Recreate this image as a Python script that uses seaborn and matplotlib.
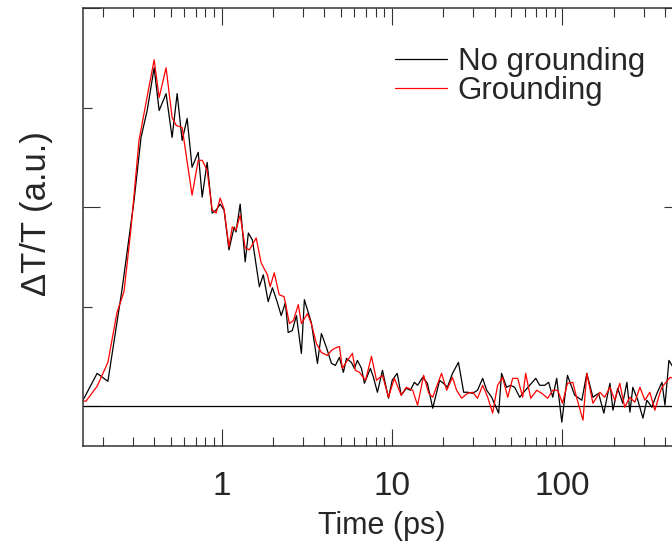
import numpy as np
import pandas as pd
import seaborn as sns
import matplotlib
matplotlib.use("Agg")
import matplotlib.pyplot as plt
from matplotlib.ticker import FixedLocator, LogLocator, NullFormatter

t_black = [0.135, 0.155, 0.185, 0.214, 0.259, 0.305, 0.335, 0.364, 0.400, 0.428,
           0.470, 0.510, 0.546, 0.584, 0.625, 0.668, 0.726, 0.766, 0.819, 0.877,
           0.925, 0.977, 1.03, 1.10, 1.18, 1.21, 1.28, 1.37, 1.43, 1.51,
           1.66, 1.75, 1.87, 1.98, 2.11, 2.23, 2.36, 2.45, 2.59, 2.74,
           2.93, 3.05, 3.35, 3.64, 3.84, 4.11, 4.40, 4.64, 4.90, 5.17,
           5.39, 5.76, 6.00, 6.25, 6.60, 6.87, 7.45, 7.76, 8.19, 8.77,
           9.51, 10.0, 10.7, 11.3, 12.1, 12.8, 13.5, 14.1, 15.1, 16.1,
           17.3, 19.0, 20.0, 21.1, 22.6, 24.5, 26.3, 27.7, 29.7, 31.7,
           34.0, 35.9, 38.4, 42.2, 43.9, 47.0, 49.6, 52.4, 56.1, 59.2,
           64.2, 69.7, 73.5, 78.7, 83.0, 87.7, 92.5, 99.1, 107, 118,
           130, 139, 151, 163, 175, 190, 198, 211, 226, 239,
           249, 259, 277, 297, 313, 335, 359, 384, 400, 422, 458]
v_black = [-0.01, 0.08, 0.33, 0.25, 1.17, 2.07, 2.70, 2.97, 3.40, 2.97,
           3.14, 2.70, 3.14, 2.67, 2.89, 2.40, 2.55, 2.10, 2.45, 1.94,
           1.97, 2.03, 1.97, 1.57, 1.80, 1.75, 2.03, 1.45, 1.74, 1.67,
           1.20, 1.32, 1.05, 1.19, 1.05, 0.91, 1.04, 0.74, 0.76, 0.91,
           0.53, 1.07, 0.84, 0.43, 0.73, 0.59, 0.43, 0.41, 0.49, 0.34,
           0.48, 0.44, 0.38, 0.46, 0.38, 0.23, 0.38, 0.29, 0.14, 0.36,
           0.08, 0.26, 0.33, 0.11, 0.18, 0.16, 0.24, 0.21, 0.29, 0.23,
           -0.02, 0.26, 0.23, 0.19, 0.33, 0.44, 0.14, 0.14, 0.13, 0.16,
           0.28, 0.16, 0.09, -0.07, 0.33, 0.19, 0.21, 0.19, 0.09, 0.14,
           0.21, 0.28, 0.21, 0.21, 0.24, 0.09, 0.28, -0.16, 0.31, 0.11,
           0.06, 0.33, 0.09, 0.13, -0.07, 0.23, -0.04, 0.18, 0.03, 0.24,
           -0.06, 0.19, 0.06, -0.12, 0.06, -0.01, 0.13, 0.24, 0.01, 0.46, 0.36]

t_red = [0.139, 0.159, 0.185, 0.214, 0.242, 0.266, 0.292, 0.326, 0.364, 0.400,
         0.428, 0.470, 0.510, 0.539, 0.584, 0.668, 0.726, 0.766, 0.819, 0.877,
         0.925, 0.977, 1.03, 1.10, 1.15, 1.21, 1.28, 1.37, 1.45, 1.59,
         1.70, 1.85, 1.92, 2.03, 2.17, 2.32, 2.49, 2.63, 2.81, 2.93,
         3.18, 3.35, 3.59, 3.84, 4.16, 4.40, 4.58, 4.90, 5.10, 5.46,
         5.84, 6.08, 6.42, 6.97, 7.56, 8.09, 8.77, 9.51, 10.3, 11.3,
         12.1, 13.2, 14.1, 15.3, 16.4, 17.3, 19.5, 20.9, 22.6, 23.9,
         25.6, 27.7, 29.7, 31.7, 34.0, 36.4, 38.9, 41.6, 44.5, 47.7,
         51.0, 54.6, 58.4, 60.8, 65.1, 70.6, 75.5, 81.9, 87.7, 93.8,
         100, 107, 115, 121, 132, 139, 151, 166, 177, 190,
         203, 217, 232, 249, 266, 285, 305, 326, 349, 373, 384, 428, 490]
v_red = [0.06, 0.05, 0.20, 0.44, 0.94, 1.15, 1.77, 2.67, 3.11, 3.48,
         3.10, 3.40, 2.90, 2.82, 2.80, 2.12, 2.47, 2.47, 2.37, 1.97,
         1.94, 2.09, 1.98, 1.60, 1.80, 1.77, 1.92, 1.59, 1.57, 1.69,
         1.44, 1.32, 1.20, 1.34, 1.12, 1.10, 0.83, 0.86, 1.02, 0.83,
         0.93, 0.83, 0.63, 0.54, 0.51, 0.56, 0.58, 0.60, 0.38, 0.46,
         0.53, 0.36, 0.34, 0.26, 0.50, 0.26, 0.31, 0.09, 0.28, 0.11,
         0.19, 0.16, 0.01, 0.31, 0.13, 0.09, 0.33, 0.16, 0.29, 0.16,
         0.08, 0.13, 0.14, 0.08, 0.21, 0.09, -0.07, 0.21, 0.29, 0.09,
         0.28, 0.28, 0.09, 0.33, 0.08, 0.16, 0.13, 0.08, 0.16, 0.16,
         0.03, 0.23, 0.24, 0.09, -0.14, 0.33, 0.03, 0.14, 0.09, 0.19,
         0.06, 0.23, -0.01, 0.09, 0.04, 0.19, 0.06, 0.14, -0.04, 0.13, 0.19, 0.29, 0.26]

labels = ["No grounding", "Grounding"]
colors = {"No grounding": "black", "Grounding": "#ff0000"}

df = pd.concat([
    pd.DataFrame({"Time": t_black, "Signal": v_black, "Sample": labels[0]}),
    pd.DataFrame({"Time": t_red, "Signal": v_red, "Sample": labels[1]}),
], ignore_index=True)

sns.set_style("ticks")
plt.rcParams["font.family"] = ["Liberation Sans", "DejaVu Sans"]

fig = plt.figure(figsize=(6.72, 5.52), dpi=100)
ax = fig.add_axes([0.1229, 0.1920, 0.8912, 0.7935])

ax.axhline(0, color="black", lw=0.9, zorder=1)
sns.lineplot(data=df, x="Time", y="Signal", hue="Sample", hue_order=labels,
             palette=colors, estimator=None, sort=True, lw=0.9, ax=ax)

ax.set_xscale("log")
ax.set_xlim(0.152, 500)
ax.set_ylim(-0.4, 4.0)

ax.xaxis.set_major_locator(FixedLocator([1, 10, 100]))
ax.set_xticklabels(["1", "10", "100"])
ax.xaxis.set_minor_locator(LogLocator(base=10, subs=np.arange(2, 10)))
ax.xaxis.set_minor_formatter(NullFormatter())
ax.yaxis.set_major_locator(FixedLocator([0, 2, 4]))
ax.yaxis.set_minor_locator(FixedLocator([1, 3]))
ax.set_yticklabels([])

ax.tick_params(which="both", direction="in", top=True, right=True,
               color="#333333", width=0.8)
ax.tick_params(which="major", length=12.5, labelsize=24, pad=18)
ax.tick_params(which="minor", length=6.5)
for s in ax.spines.values():
    s.set_color("#333333")
    s.set_linewidth(1.1)

ax.set_xlabel("Time (ps)", fontsize=22)
ax.set_ylabel("ΔT/T (a.u.)", fontsize=25)
ax.xaxis.set_label_coords(0.5, -0.148)
ax.yaxis.set_label_coords(-0.05, 0.53)

leg = ax.legend(loc="upper left", bbox_to_anchor=(395 / 672, 1 - 47 / 552),
                bbox_transform=fig.transFigure, frameon=False, fontsize=22.5,
                handlelength=1.65, handletextpad=0.35, labelspacing=-0.03,
                borderpad=0, borderaxespad=0)
for line in leg.get_lines():
    line.set_linewidth(0.9)

fig.savefig("out.png", dpi=100)
